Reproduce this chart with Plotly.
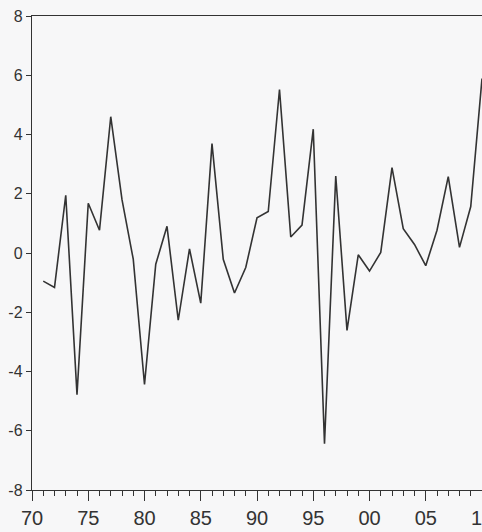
import plotly.graph_objects as go

years = list(range(1971, 2011))
values = [-0.95, -1.16, 1.95, -4.78, 1.68, 0.77, 4.60, 1.80, -0.21, -4.44,
          -0.38, 0.90, -2.27, 0.14, -1.69, 3.69, -0.21, -1.35, -0.49, 1.19,
          1.40, 5.52, 0.54, 0.94, 4.18, -6.44, 2.60, -2.61, -0.06, -0.61,
          0.02, 2.88, 0.82, 0.29, -0.43, 0.77, 2.58, 0.19, 1.57, 5.89]
x_tick_vals = [1970, 1975, 1980, 1985, 1990, 1995, 2000, 2005, 2010]
x_tick_text = ["70", "75", "80", "85", "90", "95", "00", "05", "10"]
y_tick_vals = [-8, -6, -4, -2, 0, 2, 4, 6, 8]
y_tick_text = ["-8", "-6", "-4", "-2", "0", "2", "4", "6", "8"]

bg = "#f7f7f8"
ink = "#333333"

fig = go.Figure()
fig.add_trace(go.Scatter(x=years, y=values, mode="lines",
                         line=dict(color=ink, width=1.6), showlegend=False,
                         cliponaxis=True))

fig.update_layout(
    width=482, height=532,
    margin=dict(l=32, r=0, t=16, b=42, autoexpand=False),
    paper_bgcolor=bg, plot_bgcolor=bg,
    font=dict(family="Liberation Sans, Arial, sans-serif", color=ink),
)
fig.update_xaxes(
    range=[1970, 2010.0], showgrid=False, zeroline=False,
    showline=True, linecolor=ink, linewidth=1.4, mirror=True,
    tickmode="array", tickvals=x_tick_vals, ticktext=x_tick_text,
    ticks="outside", ticklen=10, tickwidth=1.3, tickcolor=ink,
    tickfont=dict(family="Liberation Sans Narrow, Arial Narrow, sans-serif", size=20, color=ink),
    ticklabeloverflow="allow",
    minor=dict(dtick=1, tick0=1970, ticks="outside", ticklen=5, tickwidth=1.2, tickcolor=ink),
    automargin=False,
)
fig.update_yaxes(
    range=[-8, 8], showgrid=False, zeroline=False,
    showline=True, linecolor=ink, linewidth=1.4,
    tickmode="array", tickvals=y_tick_vals, ticktext=y_tick_text,
    ticks="outside", ticklen=5, tickwidth=1.2, tickcolor=ink,
    tickfont=dict(family="Liberation Sans, Arial, sans-serif", size=16, color=ink),
    ticklabeloverflow="allow",
    automargin=False,
)

fig.write_html(
    "out.html",
    config={"displayModeBar": False},
    post_script="document.body.style.margin='0';document.body.style.padding='0';"
                "document.documentElement.style.overflow='hidden';"
                "document.body.style.background='" + bg + "';",
)
